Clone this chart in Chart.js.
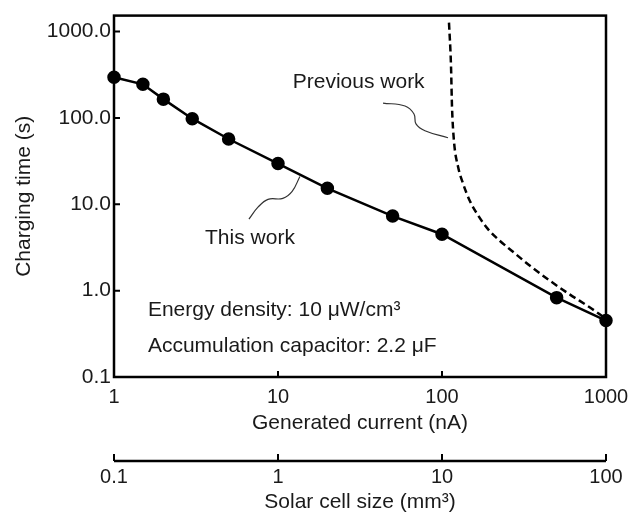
<!DOCTYPE html>
<html>
<head>
<meta charset="utf-8">
<script src="https://cdn.jsdelivr.net/npm/chart.js@4.4.0/dist/chart.umd.min.js"></script>
<style>
  html, body { margin: 0; padding: 0; background: #fff; }
  .chart-container { position: relative; width: 638px; height: 513px; }
</style>
</head>
<body>
<div class="chart-container"><canvas id="myChart"></canvas></div>
<script>
// This work (generated current nA -> charging time s)
const thisWorkX = [1, 1.5, 2, 3, 5, 10, 20, 50, 100, 500, 1000];
const thisWorkY = [296, 245, 165, 98, 57, 29.6, 15.3, 7.3, 4.5, 0.83, 0.45];

// Previous work (dashed curve)
const prevWorkX = [110.3, 113.4, 115.1, 118.4, 125.2, 134.3, 148.2, 165.8, 190.8, 225.8, 267.2, 344, 455.5, 603.3, 798.8, 972];
const prevWorkY = [1269, 417.6, 133.8, 52.97, 27.35, 17.43, 10.83, 7.47, 5.16, 3.76, 2.88, 1.94, 1.30, 0.90, 0.638, 0.49];

// leader lines for the labels (data coordinates)
const thisLeaderX = [6.65, 7.55, 8.69, 10.7, 12.2, 13.6];
const thisLeaderY = [6.73, 9.25, 11.4, 11.7, 14.1, 21.0];
const prevLeaderX = [43.7, 59.5, 67.5, 69.4, 78.7, 108.8];
const prevLeaderY = [148.6, 137.4, 111, 85.3, 71.0, 58.9];

// tick values and labels
const currentTicks = [1, 10, 100, 1000];
const currentLabels = ['1', '10', '100', '1000'];
const sizeTicks = [0.1, 1, 10, 100];
const sizeLabels = ['0.1', '1', '10', '100'];
const timeTicks = [0.1, 1, 10, 100, 1000];
const timeLabels = ['0.1', '1.0', '10.0', '100.0', '1000.0'];

const FONT = '"Liberation Sans", Arial, Helvetica, sans-serif';
const TEXT = '#1a1a1a';

function toPoints(xs, ys) {
    return xs.map((x, i) => ({ x: x, y: ys[i] }));
}

// frame, inward ticks, second axis line and text notes
const decorPlugin = {
    id: 'decor',
    afterDraw(chart) {
        const ctx = chart.ctx;
        const a = chart.chartArea;
        const sx = chart.scales.x;
        const sy = chart.scales.y;
        const s2 = chart.scales.x2;
        ctx.save();
        ctx.strokeStyle = '#000';
        ctx.lineWidth = 2.5;
        ctx.strokeRect(a.left, a.top, a.right - a.left, a.bottom - a.top);

        ctx.lineWidth = 2;
        ctx.beginPath();
        timeTicks.slice(1).forEach(v => {
            const py = sy.getPixelForValue(v);
            ctx.moveTo(a.left, py);
            ctx.lineTo(a.left + 6, py);
        });
        currentTicks.slice(1, 3).forEach(v => {
            const px = sx.getPixelForValue(v);
            ctx.moveTo(px, a.bottom);
            ctx.lineTo(px, a.bottom - 6);
        });
        ctx.stroke();

        // second x axis
        ctx.lineWidth = 2.5;
        ctx.beginPath();
        ctx.moveTo(s2.left, s2.top);
        ctx.lineTo(s2.right, s2.top);
        ctx.stroke();
        ctx.lineWidth = 2;
        ctx.beginPath();
        sizeTicks.forEach(v => {
            const px = s2.getPixelForValue(v);
            ctx.moveTo(px, s2.top);
            ctx.lineTo(px, s2.top - 7);
        });
        ctx.stroke();

        // notes
        ctx.fillStyle = TEXT;
        ctx.font = '21px ' + FONT;
        ctx.textBaseline = 'middle';
        ctx.textAlign = 'left';
        ctx.fillText('Previous work', sx.getPixelForValue(12.3), sy.getPixelForValue(259));
        ctx.fillText('This work', sx.getPixelForValue(3.59), sy.getPixelForValue(4.01));
        ctx.fillText('Energy density: 10 \u03bcW/cm\u00b3', sx.getPixelForValue(1.61), sy.getPixelForValue(0.597));
        ctx.fillText('Accumulation capacitor: 2.2 \u03bcF', sx.getPixelForValue(1.61), sy.getPixelForValue(0.227));
        ctx.restore();
    }
};

function createChart() {
    const ctx = document.getElementById('myChart').getContext('2d');

    const chart = new Chart(ctx, {
        type: 'scatter',
        data: {
            datasets: [
                {
                    label: 'Previous work',
                    data: toPoints(prevWorkX, prevWorkY),
                    showLine: true,
                    borderColor: '#000',
                    borderWidth: 2.5,
                    borderDash: [7, 4],
                    cubicInterpolationMode: 'monotone',
                    pointRadius: 0
                },
                {
                    label: 'This work',
                    data: toPoints(thisWorkX, thisWorkY),
                    showLine: true,
                    borderColor: '#000',
                    backgroundColor: '#000',
                    borderWidth: 2.5,
                    tension: 0,
                    pointRadius: 5.5,
                    clip: false
                },
                {
                    label: 'leader this',
                    data: toPoints(thisLeaderX, thisLeaderY),
                    showLine: true,
                    borderColor: '#333',
                    borderWidth: 1.2,
                    tension: 0.4,
                    pointRadius: 0
                },
                {
                    label: 'leader prev',
                    data: toPoints(prevLeaderX, prevLeaderY),
                    showLine: true,
                    borderColor: '#333',
                    borderWidth: 1.2,
                    tension: 0.4,
                    pointRadius: 0
                }
            ]
        },
        options: {
            responsive: true,
            maintainAspectRatio: false,
            animation: false,
            layout: { padding: { left: 0, right: 32, top: 13, bottom: 0 } },
            plugins: {
                legend: { display: false },
                tooltip: { enabled: false }
            },
            scales: {
                x: {
                    type: 'logarithmic',
                    position: 'bottom',
                    weight: 0,
                    min: 1,
                    max: 1000,
                    afterBuildTicks: s => { s.ticks = currentTicks.map(v => ({ value: v })); },
                    afterFit: s => { s.height = 84; },
                    ticks: {
                        callback: (v, i) => currentLabels[i],
                        font: { family: FONT, size: 20 },
                        color: TEXT,
                        padding: 8,
                        maxRotation: 0,
                        autoSkip: false
                    },
                    grid: { display: false, drawTicks: false },
                    border: { display: false },
                    title: {
                        display: true,
                        text: 'Generated current (nA)',
                        font: { family: FONT, size: 21, lineHeight: 1 },
                        color: TEXT,
                        padding: { top: 0, bottom: 27 }
                    }
                },
                x2: {
                    type: 'logarithmic',
                    position: 'bottom',
                    weight: 1,
                    min: 0.1,
                    max: 100,
                    afterBuildTicks: s => { s.ticks = sizeTicks.map(v => ({ value: v })); },
                    afterFit: s => { s.height = 52; },
                    ticks: {
                        callback: (v, i) => sizeLabels[i],
                        font: { family: FONT, size: 20 },
                        color: TEXT,
                        padding: 4,
                        maxRotation: 0,
                        autoSkip: false
                    },
                    grid: { display: false, drawTicks: false },
                    border: { display: false },
                    title: {
                        display: true,
                        text: 'Solar cell size (mm\u00b3)',
                        font: { family: FONT, size: 21, lineHeight: 1 },
                        color: TEXT,
                        padding: { top: 0, bottom: 0 }
                    }
                },
                y: {
                    type: 'logarithmic',
                    position: 'left',
                    min: 0.1,
                    max: 1530,
                    afterBuildTicks: s => { s.ticks = timeTicks.map(v => ({ value: v })); },
                    afterFit: s => { s.width = 114; },
                    ticks: {
                        callback: (v, i) => timeLabels[i],
                        font: { family: FONT, size: 21 },
                        color: TEXT,
                        padding: 3,
                        autoSkip: false
                    },
                    grid: { display: false, drawTicks: false },
                    border: { display: false },
                    title: {
                        display: true,
                        text: 'Charging time (s)',
                        font: { family: FONT, size: 21, lineHeight: 1 },
                        color: TEXT,
                        padding: { top: 14, bottom: 0 }
                    }
                }
            }
        },
        plugins: [decorPlugin]
    });

    return chart;
}

document.addEventListener('DOMContentLoaded', createChart);
</script>
</body>
</html>
